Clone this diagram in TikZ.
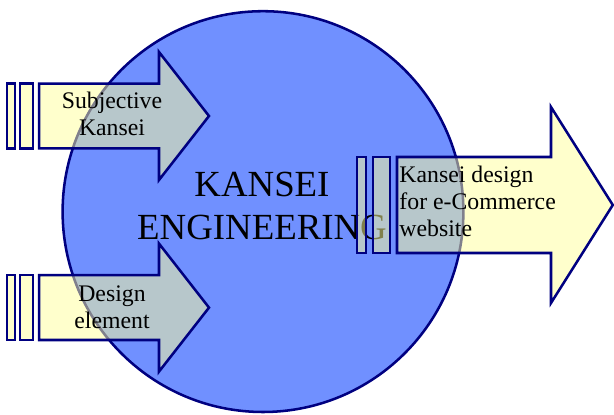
\documentclass[tikz,border=0pt]{standalone}
\usepackage{fontspec}
\setmainfont{Liberation Serif}
\usepackage{tikz}
\definecolor{navy}{HTML}{000080}
\definecolor{disc}{HTML}{7090FF}
\definecolor{pale}{HTML}{FFFF99}

\begin{document}
\begin{tikzpicture}[x=1cm,y=1cm,
  feed/.style={fill=pale,fill opacity=.5,draw=navy,line width=1.8pt,line join=miter},
  lbl/.style={font=\fontsize{16.9}{19.2}\selectfont,inner sep=0pt}]
\useasboundingbox (0,0) rectangle (15.35,10.35);
% the big disc with its title
\fill[disc] (6.575,5.06) circle (5.01);
\draw[navy,line width=1.8pt] (6.575,5.06) circle (5.01);
\node[font=\fontsize{26.2}{30.6}\selectfont,align=center] (title) at (6.55,5.21) {KANSEI\\ENGINEERING};
% two inputs on the left: two bars and a block arrow each
\foreach \y in {7.45,2.66} {
  \draw[feed] (0.18,\y-0.81) rectangle (0.375,\y+0.81);
  \draw[feed] (0.5,\y-0.81) rectangle (0.825,\y+0.81);
  \draw[feed] (0.98,\y-0.81) -- (3.975,\y-0.81) -- (3.975,\y-1.6) -- (5.225,\y)
    -- (3.975,\y+1.6) -- (3.975,\y+0.81) -- (0.98,\y+0.81) -- cycle;
}
\node[lbl,align=center] (subj) at (2.8,7.5) {Subjective\\Kansei};
\node[lbl,align=center] (design) at (2.8,2.66) {Design\\element};
% output on the right
\draw[feed] (8.925,4.025) rectangle (9.15,6.425);
\draw[feed] (9.325,4.025) rectangle (9.75,6.425);
\draw[feed] (9.925,4.025) -- (13.775,4.025) -- (13.775,2.775) -- (15.32,5.225)
  -- (13.775,7.675) -- (13.775,6.425) -- (9.925,6.425) -- cycle;
\node[lbl,align=left,anchor=west] (website) at (9.98,5.31) {Kansei design\\for e-Commerce\\website};
\end{tikzpicture}
\end{document}
